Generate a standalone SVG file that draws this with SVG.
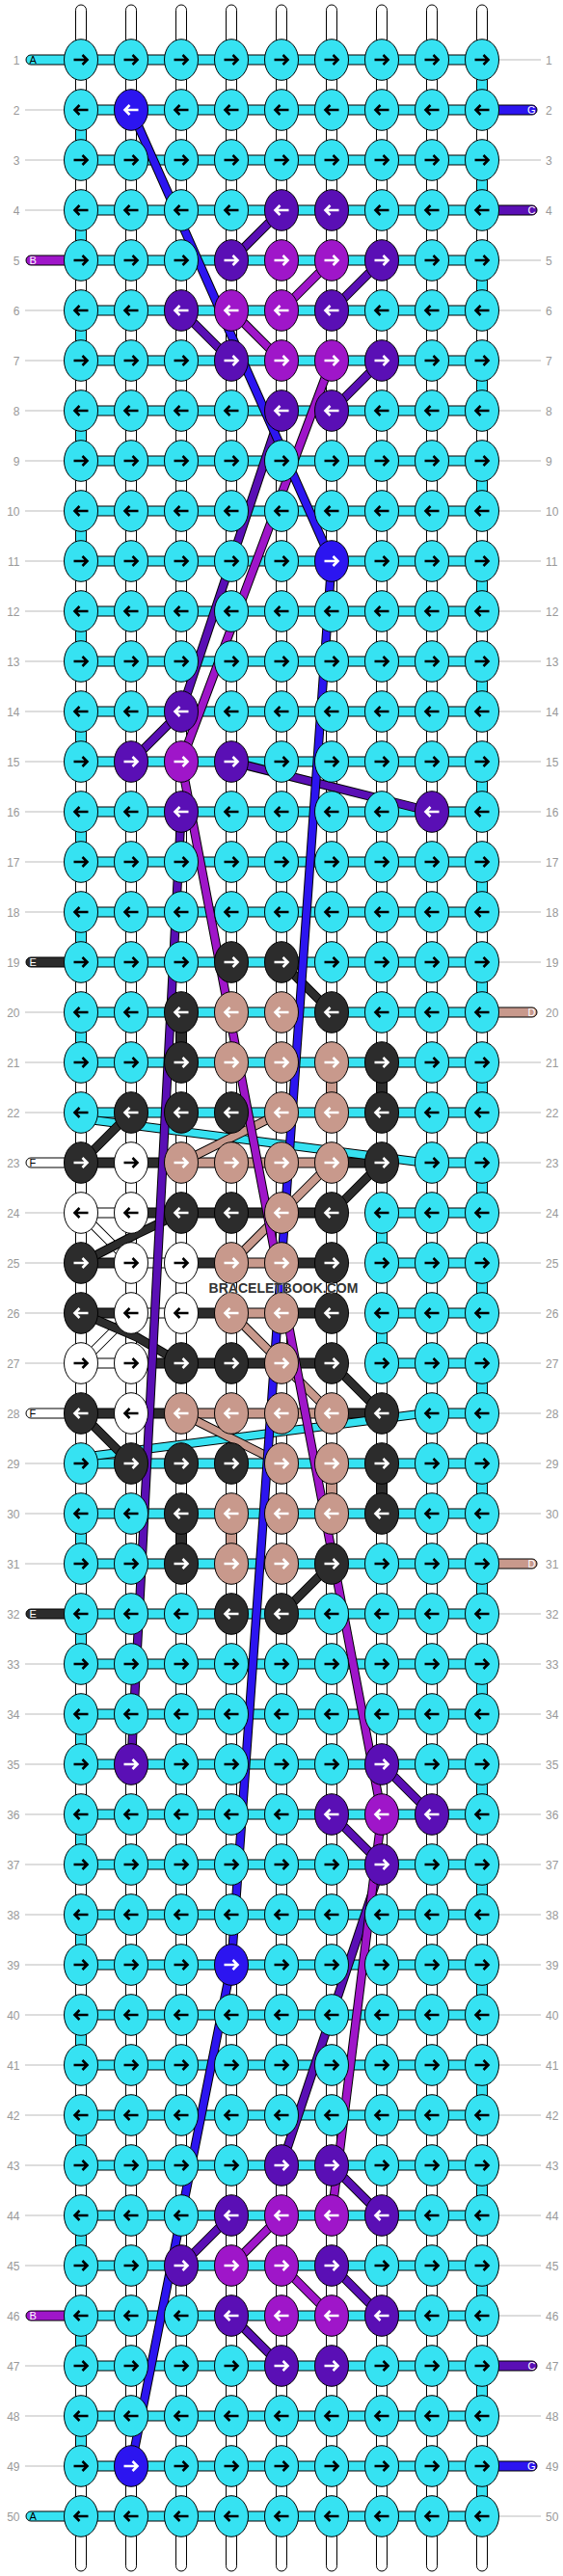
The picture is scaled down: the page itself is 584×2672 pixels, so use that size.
<svg xmlns="http://www.w3.org/2000/svg" xmlns:xlink="http://www.w3.org/1999/xlink" width="584" height="2672" viewBox="0 0 584 2672">
<style>
.fC{fill:#36e2f2}.fG{fill:#2c15f0}.fP{fill:#5a0fb5}.fM{fill:#9f16c9}.fT{fill:#c8998c}.fK{fill:#2c2c2c}.fW{fill:#fff}
ellipse{stroke:#000;stroke-width:1}
.ak{stroke:#000}.aw{stroke:#fff}
.hb rect{stroke:#000;stroke-width:1}
.vc rect{stroke:#000;stroke-width:1}
.str{fill:#fff;stroke:#000;stroke-width:1}
.o{fill:none;stroke:#000;stroke-width:9.5}
.lC,.lG,.lP,.lM,.lT,.lK,.lW{fill:none;stroke-width:7.5}
.lC{stroke:#36e2f2}.lG{stroke:#2c15f0}.lP{stroke:#5a0fb5}.lM{stroke:#9f16c9}.lT{stroke:#c8998c}.lK{stroke:#2c2c2c}.lW{stroke:#fff}
.lb{font-family:"Liberation Sans",Arial,sans-serif;font-size:12px;fill:#999}
.gl{fill:none;stroke:#bbb;stroke-width:1}
.st{stroke:#000;stroke-width:1}
.sl{font-family:"Liberation Sans",Arial,sans-serif;font-size:11px}
.wm{font-family:"Liberation Sans",Arial,sans-serif;font-size:14px;font-weight:bold;fill:#333;stroke:#fff;stroke-width:0.6;paint-order:stroke}
</style>
<defs>
<path id="ar" d="M-7.5,0H6.5M1.5,-5L6.5,0L1.5,5" fill="none" stroke-width="2.6"/>
<path id="al" d="M7.5,0H-6.5M-1.5,-5L-6.5,0L-1.5,5" fill="none" stroke-width="2.6"/>
<g id="CR"><ellipse rx="17.5" ry="21.3" class="fC"/><use href="#ar" class="ak"/></g>
<g id="CL"><ellipse rx="17.5" ry="21.3" class="fC"/><use href="#al" class="ak"/></g>
<g id="GR"><ellipse rx="17.5" ry="21.3" class="fG"/><use href="#ar" class="aw"/></g>
<g id="GL"><ellipse rx="17.5" ry="21.3" class="fG"/><use href="#al" class="aw"/></g>
<g id="PR"><ellipse rx="17.5" ry="21.3" class="fP"/><use href="#ar" class="aw"/></g>
<g id="PL"><ellipse rx="17.5" ry="21.3" class="fP"/><use href="#al" class="aw"/></g>
<g id="MR"><ellipse rx="17.5" ry="21.3" class="fM"/><use href="#ar" class="aw"/></g>
<g id="ML"><ellipse rx="17.5" ry="21.3" class="fM"/><use href="#al" class="aw"/></g>
<g id="TR"><ellipse rx="17.5" ry="21.3" class="fT"/><use href="#ar" class="aw"/></g>
<g id="TL"><ellipse rx="17.5" ry="21.3" class="fT"/><use href="#al" class="aw"/></g>
<g id="KR"><ellipse rx="17.5" ry="21.3" class="fK"/><use href="#ar" class="aw"/></g>
<g id="KL"><ellipse rx="17.5" ry="21.3" class="fK"/><use href="#al" class="aw"/></g>
<g id="WR"><ellipse rx="17.5" ry="21.3" class="fW"/><use href="#ar" class="ak"/></g>
<g id="WL"><ellipse rx="17.5" ry="21.3" class="fW"/><use href="#al" class="ak"/></g>
</defs>
<rect width="584" height="2672" fill="#fff"/>
<g id="strings">
<rect class="str" x="78.5" y="5" width="11" height="2662" rx="5.5"/>
<rect class="str" x="130.5" y="5" width="11" height="2662" rx="5.5"/>
<rect class="str" x="182.5" y="5" width="11" height="2662" rx="5.5"/>
<rect class="str" x="234.5" y="5" width="11" height="2662" rx="5.5"/>
<rect class="str" x="286.5" y="5" width="11" height="2662" rx="5.5"/>
<rect class="str" x="338.5" y="5" width="11" height="2662" rx="5.5"/>
<rect class="str" x="390.5" y="5" width="11" height="2662" rx="5.5"/>
<rect class="str" x="442.5" y="5" width="11" height="2662" rx="5.5"/>
<rect class="str" x="494.5" y="5" width="11" height="2662" rx="5.5"/>
</g>
<g id="labels">
<path class="gl" d="M26,114H66M26,166H66M26,218H66M26,322H66M26,374H66M26,426H66M26,478H66M26,530H66M26,582H66M26,634H66M26,686H66M26,738H66M26,790H66M26,842H66M26,894H66M26,946H66M26,1050H66M26,1102H66M26,1154H66M26,1258H66M26,1310H66M26,1362H66M26,1414H66M26,1518H66M26,1570H66M26,1622H66M26,1726H66M26,1778H66M26,1830H66M26,1882H66M26,1934H66M26,1986H66M26,2038H66M26,2090H66M26,2142H66M26,2194H66M26,2246H66M26,2298H66M26,2350H66M26,2454H66M26,2506H66M26,2558H66"/>
<path class="gl" d="M518,62H561M518,166H561M518,270H561M518,322H561M518,374H561M518,426H561M518,478H561M518,530H561M518,582H561M518,634H561M518,686H561M518,738H561M518,790H561M518,842H561M518,894H561M518,946H561M518,998H561M518,1102H561M518,1154H561M518,1206H561M518,1258H561M518,1310H561M518,1362H561M518,1414H561M518,1466H561M518,1518H561M518,1570H561M518,1674H561M518,1726H561M518,1778H561M518,1830H561M518,1882H561M518,1934H561M518,1986H561M518,2038H561M518,2090H561M518,2142H561M518,2194H561M518,2246H561M518,2298H561M518,2350H561M518,2402H561M518,2506H561M518,2610H561"/>
<g class="lb" text-anchor="end">
<text x="20.5" y="66.5">1</text><text x="20.5" y="118.5">2</text><text x="20.5" y="170.5">3</text><text x="20.5" y="222.5">4</text><text x="20.5" y="274.5">5</text><text x="20.5" y="326.5">6</text><text x="20.5" y="378.5">7</text><text x="20.5" y="430.5">8</text><text x="20.5" y="482.5">9</text><text x="20.5" y="534.5">10</text>
<text x="20.5" y="586.5">11</text><text x="20.5" y="638.5">12</text><text x="20.5" y="690.5">13</text><text x="20.5" y="742.5">14</text><text x="20.5" y="794.5">15</text><text x="20.5" y="846.5">16</text><text x="20.5" y="898.5">17</text><text x="20.5" y="950.5">18</text><text x="20.5" y="1002.5">19</text><text x="20.5" y="1054.5">20</text>
<text x="20.5" y="1106.5">21</text><text x="20.5" y="1158.5">22</text><text x="20.5" y="1210.5">23</text><text x="20.5" y="1262.5">24</text><text x="20.5" y="1314.5">25</text><text x="20.5" y="1366.5">26</text><text x="20.5" y="1418.5">27</text><text x="20.5" y="1470.5">28</text><text x="20.5" y="1522.5">29</text><text x="20.5" y="1574.5">30</text>
<text x="20.5" y="1626.5">31</text><text x="20.5" y="1678.5">32</text><text x="20.5" y="1730.5">33</text><text x="20.5" y="1782.5">34</text><text x="20.5" y="1834.5">35</text><text x="20.5" y="1886.5">36</text><text x="20.5" y="1938.5">37</text><text x="20.5" y="1990.5">38</text><text x="20.5" y="2042.5">39</text><text x="20.5" y="2094.5">40</text>
<text x="20.5" y="2146.5">41</text><text x="20.5" y="2198.5">42</text><text x="20.5" y="2250.5">43</text><text x="20.5" y="2302.5">44</text><text x="20.5" y="2354.5">45</text><text x="20.5" y="2406.5">46</text><text x="20.5" y="2458.5">47</text><text x="20.5" y="2510.5">48</text><text x="20.5" y="2562.5">49</text><text x="20.5" y="2614.5">50</text>
</g>
<g class="lb">
<text x="566" y="66.5">1</text><text x="566" y="118.5">2</text><text x="566" y="170.5">3</text><text x="566" y="222.5">4</text><text x="566" y="274.5">5</text><text x="566" y="326.5">6</text><text x="566" y="378.5">7</text><text x="566" y="430.5">8</text><text x="566" y="482.5">9</text><text x="566" y="534.5">10</text>
<text x="566" y="586.5">11</text><text x="566" y="638.5">12</text><text x="566" y="690.5">13</text><text x="566" y="742.5">14</text><text x="566" y="794.5">15</text><text x="566" y="846.5">16</text><text x="566" y="898.5">17</text><text x="566" y="950.5">18</text><text x="566" y="1002.5">19</text><text x="566" y="1054.5">20</text>
<text x="566" y="1106.5">21</text><text x="566" y="1158.5">22</text><text x="566" y="1210.5">23</text><text x="566" y="1262.5">24</text><text x="566" y="1314.5">25</text><text x="566" y="1366.5">26</text><text x="566" y="1418.5">27</text><text x="566" y="1470.5">28</text><text x="566" y="1522.5">29</text><text x="566" y="1574.5">30</text>
<text x="566" y="1626.5">31</text><text x="566" y="1678.5">32</text><text x="566" y="1730.5">33</text><text x="566" y="1782.5">34</text><text x="566" y="1834.5">35</text><text x="566" y="1886.5">36</text><text x="566" y="1938.5">37</text><text x="566" y="1990.5">38</text><text x="566" y="2042.5">39</text><text x="566" y="2094.5">40</text>
<text x="566" y="2146.5">41</text><text x="566" y="2198.5">42</text><text x="566" y="2250.5">43</text><text x="566" y="2302.5">44</text><text x="566" y="2354.5">45</text><text x="566" y="2406.5">46</text><text x="566" y="2458.5">47</text><text x="566" y="2510.5">48</text><text x="566" y="2562.5">49</text><text x="566" y="2614.5">50</text>
</g>
</g>
<g id="stubs">
<g id="sA1"><rect class="st fC" x="27" y="57" width="57" height="10" rx="5"/><text class="sl" x="30.5" y="66" fill="#000">A</text></g>
<g id="sB5"><rect class="st fM" x="27" y="265" width="57" height="10" rx="5"/><text class="sl" x="30.5" y="274" fill="#fff">B</text></g>
<g id="sE19"><rect class="st fK" x="27" y="993" width="57" height="10" rx="5"/><text class="sl" x="30.5" y="1002" fill="#fff">E</text></g>
<g id="sF23"><rect class="st fW" x="27" y="1201" width="57" height="10" rx="5"/><text class="sl" x="30.5" y="1210" fill="#000">F</text></g>
<g id="sF28"><rect class="st fW" x="27" y="1461" width="57" height="10" rx="5"/><text class="sl" x="30.5" y="1470" fill="#000">F</text></g>
<g id="sE32"><rect class="st fK" x="27" y="1669" width="57" height="10" rx="5"/><text class="sl" x="30.5" y="1678" fill="#fff">E</text></g>
<g id="sB46"><rect class="st fM" x="27" y="2397" width="57" height="10" rx="5"/><text class="sl" x="30.5" y="2406" fill="#fff">B</text></g>
<g id="sA50"><rect class="st fC" x="27" y="2605" width="57" height="10" rx="5"/><text class="sl" x="30.5" y="2614" fill="#000">A</text></g>
<g id="sG2"><rect class="st fG" x="500" y="109" width="57" height="10" rx="5"/><text class="sl" x="555.5" y="118" fill="#fff" text-anchor="end">G</text></g>
<g id="sC4"><rect class="st fP" x="500" y="213" width="57" height="10" rx="5"/><text class="sl" x="555.5" y="222" fill="#fff" text-anchor="end">C</text></g>
<g id="sD20"><rect class="st fT" x="500" y="1045" width="57" height="10" rx="5"/><text class="sl" x="555.5" y="1054" fill="#fff" text-anchor="end">D</text></g>
<g id="sD31"><rect class="st fT" x="500" y="1617" width="57" height="10" rx="5"/><text class="sl" x="555.5" y="1626" fill="#fff" text-anchor="end">D</text></g>
<g id="sC47"><rect class="st fP" x="500" y="2449" width="57" height="10" rx="5"/><text class="sl" x="555.5" y="2458" fill="#fff" text-anchor="end">C</text></g>
<g id="sG49"><rect class="st fG" x="500" y="2553" width="57" height="10" rx="5"/><text class="sl" x="555.5" y="2562" fill="#fff" text-anchor="end">G</text></g>
</g>
<g id="connectors">
<g class="hb">
<g class="fC">
<rect x="84" y="57" width="416" height="10"/><rect x="84" y="109" width="416" height="10"/><rect x="84" y="161" width="416" height="10"/><rect x="84" y="213" width="416" height="10"/><rect x="84" y="265" width="416" height="10"/><rect x="84" y="317" width="416" height="10"/><rect x="84" y="369" width="416" height="10"/><rect x="84" y="421" width="416" height="10"/><rect x="84" y="473" width="416" height="10"/><rect x="84" y="525" width="416" height="10"/>
<rect x="84" y="577" width="416" height="10"/><rect x="84" y="629" width="416" height="10"/><rect x="84" y="681" width="416" height="10"/><rect x="84" y="733" width="416" height="10"/><rect x="84" y="785" width="416" height="10"/><rect x="84" y="837" width="416" height="10"/><rect x="84" y="889" width="416" height="10"/><rect x="84" y="941" width="416" height="10"/><rect x="84" y="993" width="416" height="10"/><rect x="84" y="1045" width="416" height="10"/>
<rect x="84" y="1097" width="416" height="10"/><rect x="84" y="1149" width="416" height="10"/>
<rect x="448" y="1201" width="52" height="10"/><rect x="396" y="1253" width="104" height="10"/><rect x="396" y="1305" width="104" height="10"/><rect x="396" y="1357" width="104" height="10"/><rect x="396" y="1409" width="104" height="10"/><rect x="448" y="1461" width="52" height="10"/>
<rect x="84" y="1513" width="416" height="10"/><rect x="84" y="1565" width="416" height="10"/><rect x="84" y="1617" width="416" height="10"/><rect x="84" y="1669" width="416" height="10"/><rect x="84" y="1721" width="416" height="10"/><rect x="84" y="1773" width="416" height="10"/><rect x="84" y="1825" width="416" height="10"/><rect x="84" y="1877" width="416" height="10"/><rect x="84" y="1929" width="416" height="10"/><rect x="84" y="1981" width="416" height="10"/>
<rect x="84" y="2033" width="416" height="10"/><rect x="84" y="2085" width="416" height="10"/><rect x="84" y="2137" width="416" height="10"/><rect x="84" y="2189" width="416" height="10"/><rect x="84" y="2241" width="416" height="10"/><rect x="84" y="2293" width="416" height="10"/><rect x="84" y="2345" width="416" height="10"/><rect x="84" y="2397" width="416" height="10"/><rect x="84" y="2449" width="416" height="10"/><rect x="84" y="2501" width="416" height="10"/>
<rect x="84" y="2553" width="416" height="10"/><rect x="84" y="2605" width="416" height="10"/>
</g>
<g class="fK">
<rect x="84" y="1201" width="104" height="10"/><rect x="344" y="1201" width="52" height="10"/>
<rect x="136" y="1253" width="208" height="10"/>
<rect x="84" y="1305" width="52" height="10"/><rect x="188" y="1305" width="52" height="10"/><rect x="292" y="1305" width="52" height="10"/>
<rect x="84" y="1357" width="52" height="10"/><rect x="188" y="1357" width="52" height="10"/><rect x="292" y="1357" width="52" height="10"/>
<rect x="136" y="1409" width="208" height="10"/>
<rect x="84" y="1461" width="104" height="10"/><rect x="344" y="1461" width="52" height="10"/>
</g>
<g class="fT">
<rect x="188" y="1201" width="156" height="10"/><rect x="240" y="1305" width="52" height="10"/><rect x="240" y="1357" width="52" height="10"/><rect x="188" y="1461" width="156" height="10"/>
</g>
<g class="fW">
<rect x="84" y="1253" width="52" height="10"/><rect x="136" y="1305" width="52" height="10"/><rect x="136" y="1357" width="52" height="10"/><rect x="84" y="1409" width="52" height="10"/>
</g>
</g>
<path class="gl" d="M344,1258H396M344,1310H396M344,1362H396M344,1414H396"/>
<g class="vc">
<g class="fC">
<rect x="494.5" y="77" width="11" height="22"/><rect x="78.5" y="129" width="11" height="22"/><rect x="494.5" y="181" width="11" height="22"/><rect x="78.5" y="233" width="11" height="22"/><rect x="494.5" y="285" width="11" height="22"/><rect x="78.5" y="337" width="11" height="22"/><rect x="494.5" y="389" width="11" height="22"/><rect x="78.5" y="441" width="11" height="22"/><rect x="494.5" y="493" width="11" height="22"/><rect x="78.5" y="545" width="11" height="22"/>
<rect x="494.5" y="597" width="11" height="22"/><rect x="78.5" y="649" width="11" height="22"/><rect x="494.5" y="701" width="11" height="22"/><rect x="78.5" y="753" width="11" height="22"/><rect x="494.5" y="805" width="11" height="22"/><rect x="78.5" y="857" width="11" height="22"/><rect x="494.5" y="909" width="11" height="22"/><rect x="78.5" y="961" width="11" height="22"/><rect x="494.5" y="1013" width="11" height="22"/><rect x="78.5" y="1065" width="11" height="22"/>
<rect x="494.5" y="1117" width="11" height="22"/><rect x="494.5" y="1221" width="11" height="22"/><rect x="390.5" y="1273" width="11" height="22"/><rect x="494.5" y="1325" width="11" height="22"/><rect x="390.5" y="1377" width="11" height="22"/><rect x="494.5" y="1429" width="11" height="22"/>
<rect x="494.5" y="1533" width="11" height="22"/><rect x="78.5" y="1585" width="11" height="22"/><rect x="494.5" y="1637" width="11" height="22"/><rect x="78.5" y="1689" width="11" height="22"/><rect x="494.5" y="1741" width="11" height="22"/><rect x="78.5" y="1793" width="11" height="22"/><rect x="494.5" y="1845" width="11" height="22"/><rect x="78.5" y="1897" width="11" height="22"/><rect x="494.5" y="1949" width="11" height="22"/><rect x="78.5" y="2001" width="11" height="22"/>
<rect x="494.5" y="2053" width="11" height="22"/><rect x="78.5" y="2105" width="11" height="22"/><rect x="494.5" y="2157" width="11" height="22"/><rect x="78.5" y="2209" width="11" height="22"/><rect x="494.5" y="2261" width="11" height="22"/><rect x="78.5" y="2313" width="11" height="22"/><rect x="494.5" y="2365" width="11" height="22"/><rect x="78.5" y="2417" width="11" height="22"/><rect x="494.5" y="2469" width="11" height="22"/><rect x="78.5" y="2521" width="11" height="22"/>
<rect x="494.5" y="2573" width="11" height="22"/>
</g>
<g class="fK"><rect x="182.5" y="1065" width="11" height="22"/><rect x="390.5" y="1117" width="11" height="22"/><rect x="390.5" y="1533" width="11" height="22"/><rect x="182.5" y="1585" width="11" height="22"/></g>
<g class="fT"><rect x="338.5" y="1117" width="11" height="22"/><rect x="338.5" y="1533" width="11" height="22"/><rect x="234.5" y="1585" width="11" height="22"/></g>
</g>
<g id="threads">
<path class="o" d="M90,1161L448,1207M448,1465L90,1511"/><path class="lC" d="M90,1161L448,1207M448,1465L90,1511"/>
<path class="o" d="M84,1258L136,1310M136,1362L84,1414"/><path class="lW" d="M84,1258L136,1310M136,1362L84,1414"/>
<path class="o" d="M136,1154L84,1206M84,1466L136,1518M84,1310L142,1280L188,1258M84,1362L142,1387L188,1414M292,998L344,1050M396,1206L344,1258M344,1414L396,1466M344,1622L292,1674"/>
<path class="lK" d="M136,1154L84,1206M84,1466L136,1518M84,1310L142,1280L188,1258M84,1362L142,1387L188,1414M292,998L344,1050M396,1206L344,1258M344,1414L396,1466M344,1622L292,1674"/>
<path class="o" d="M292,1154L188,1206M344,1206L292,1258L240,1310M240,1362L292,1414L344,1466M188,1466L292,1518"/>
<path class="lT" d="M292,1154L188,1206M344,1206L292,1258L240,1310M240,1362L292,1414L344,1466M188,1466L292,1518"/>
<path class="o" d="M292,218L240,270M396,270L344,322M188,322L240,374M396,374L344,426M292,426L188,738L136,790M240,790L448,842M188,842L136,1830M396,1830L448,1882M344,1882L396,1934L292,2246M344,2246L396,2298M240,2298L188,2350M344,2350L396,2402M240,2402L292,2454"/>
<path class="lP" d="M292,218L240,270M396,270L344,322M188,322L240,374M396,374L344,426M292,426L188,738L136,790M240,790L448,842M188,842L136,1830M396,1830L448,1882M344,1882L396,1934L292,2246M344,2246L396,2298M240,2298L188,2350M344,2350L396,2402M240,2402L292,2454"/>
<path class="o" d="M344,270L292,322M240,322L292,374M344,374L188,790L396,1882L344,2298M292,2298L240,2350M292,2350L344,2402"/>
<path class="lM" d="M344,270L292,322M240,322L292,374M344,374L188,790L396,1882L344,2298M292,2298L240,2350M292,2350L344,2402"/>
<path class="o" d="M136,114L344,582L240,2038L136,2558"/>
<path class="lG" d="M136,114L344,582L240,2038L136,2558"/>
</g>
</g>
<g id="nodes">
<g id="n1-1"><use href="#CR" x="84" y="62"/></g><g id="n1-2"><use href="#CR" x="136" y="62"/></g><g id="n1-3"><use href="#CR" x="188" y="62"/></g><g id="n1-4"><use href="#CR" x="240" y="62"/></g><g id="n1-5"><use href="#CR" x="292" y="62"/></g><g id="n1-6"><use href="#CR" x="344" y="62"/></g><g id="n1-7"><use href="#CR" x="396" y="62"/></g><g id="n1-8"><use href="#CR" x="448" y="62"/></g><g id="n1-9"><use href="#CR" x="500" y="62"/></g>
<g id="n2-1"><use href="#CL" x="84" y="114"/></g><g id="n2-2"><use href="#GL" x="136" y="114"/></g><g id="n2-3"><use href="#CL" x="188" y="114"/></g><g id="n2-4"><use href="#CL" x="240" y="114"/></g><g id="n2-5"><use href="#CL" x="292" y="114"/></g><g id="n2-6"><use href="#CL" x="344" y="114"/></g><g id="n2-7"><use href="#CL" x="396" y="114"/></g><g id="n2-8"><use href="#CL" x="448" y="114"/></g><g id="n2-9"><use href="#CL" x="500" y="114"/></g>
<g id="n3-1"><use href="#CR" x="84" y="166"/></g><g id="n3-2"><use href="#CR" x="136" y="166"/></g><g id="n3-3"><use href="#CR" x="188" y="166"/></g><g id="n3-4"><use href="#CR" x="240" y="166"/></g><g id="n3-5"><use href="#CR" x="292" y="166"/></g><g id="n3-6"><use href="#CR" x="344" y="166"/></g><g id="n3-7"><use href="#CR" x="396" y="166"/></g><g id="n3-8"><use href="#CR" x="448" y="166"/></g><g id="n3-9"><use href="#CR" x="500" y="166"/></g>
<g id="n4-1"><use href="#CL" x="84" y="218"/></g><g id="n4-2"><use href="#CL" x="136" y="218"/></g><g id="n4-3"><use href="#CL" x="188" y="218"/></g><g id="n4-4"><use href="#CL" x="240" y="218"/></g><g id="n4-5"><use href="#PL" x="292" y="218"/></g><g id="n4-6"><use href="#PL" x="344" y="218"/></g><g id="n4-7"><use href="#CL" x="396" y="218"/></g><g id="n4-8"><use href="#CL" x="448" y="218"/></g><g id="n4-9"><use href="#CL" x="500" y="218"/></g>
<g id="n5-1"><use href="#CR" x="84" y="270"/></g><g id="n5-2"><use href="#CR" x="136" y="270"/></g><g id="n5-3"><use href="#CR" x="188" y="270"/></g><g id="n5-4"><use href="#PR" x="240" y="270"/></g><g id="n5-5"><use href="#MR" x="292" y="270"/></g><g id="n5-6"><use href="#MR" x="344" y="270"/></g><g id="n5-7"><use href="#PR" x="396" y="270"/></g><g id="n5-8"><use href="#CR" x="448" y="270"/></g><g id="n5-9"><use href="#CR" x="500" y="270"/></g>
<g id="n6-1"><use href="#CL" x="84" y="322"/></g><g id="n6-2"><use href="#CL" x="136" y="322"/></g><g id="n6-3"><use href="#PL" x="188" y="322"/></g><g id="n6-4"><use href="#ML" x="240" y="322"/></g><g id="n6-5"><use href="#ML" x="292" y="322"/></g><g id="n6-6"><use href="#PL" x="344" y="322"/></g><g id="n6-7"><use href="#CL" x="396" y="322"/></g><g id="n6-8"><use href="#CL" x="448" y="322"/></g><g id="n6-9"><use href="#CL" x="500" y="322"/></g>
<g id="n7-1"><use href="#CR" x="84" y="374"/></g><g id="n7-2"><use href="#CR" x="136" y="374"/></g><g id="n7-3"><use href="#CR" x="188" y="374"/></g><g id="n7-4"><use href="#PR" x="240" y="374"/></g><g id="n7-5"><use href="#MR" x="292" y="374"/></g><g id="n7-6"><use href="#MR" x="344" y="374"/></g><g id="n7-7"><use href="#PR" x="396" y="374"/></g><g id="n7-8"><use href="#CR" x="448" y="374"/></g><g id="n7-9"><use href="#CR" x="500" y="374"/></g>
<g id="n8-1"><use href="#CL" x="84" y="426"/></g><g id="n8-2"><use href="#CL" x="136" y="426"/></g><g id="n8-3"><use href="#CL" x="188" y="426"/></g><g id="n8-4"><use href="#CL" x="240" y="426"/></g><g id="n8-5"><use href="#PL" x="292" y="426"/></g><g id="n8-6"><use href="#PL" x="344" y="426"/></g><g id="n8-7"><use href="#CL" x="396" y="426"/></g><g id="n8-8"><use href="#CL" x="448" y="426"/></g><g id="n8-9"><use href="#CL" x="500" y="426"/></g>
<g id="n9-1"><use href="#CR" x="84" y="478"/></g><g id="n9-2"><use href="#CR" x="136" y="478"/></g><g id="n9-3"><use href="#CR" x="188" y="478"/></g><g id="n9-4"><use href="#CR" x="240" y="478"/></g><g id="n9-5"><use href="#CR" x="292" y="478"/></g><g id="n9-6"><use href="#CR" x="344" y="478"/></g><g id="n9-7"><use href="#CR" x="396" y="478"/></g><g id="n9-8"><use href="#CR" x="448" y="478"/></g><g id="n9-9"><use href="#CR" x="500" y="478"/></g>
<g id="n10-1"><use href="#CL" x="84" y="530"/></g><g id="n10-2"><use href="#CL" x="136" y="530"/></g><g id="n10-3"><use href="#CL" x="188" y="530"/></g><g id="n10-4"><use href="#CL" x="240" y="530"/></g><g id="n10-5"><use href="#CL" x="292" y="530"/></g><g id="n10-6"><use href="#CL" x="344" y="530"/></g><g id="n10-7"><use href="#CL" x="396" y="530"/></g><g id="n10-8"><use href="#CL" x="448" y="530"/></g><g id="n10-9"><use href="#CL" x="500" y="530"/></g>
<g id="n11-1"><use href="#CR" x="84" y="582"/></g><g id="n11-2"><use href="#CR" x="136" y="582"/></g><g id="n11-3"><use href="#CR" x="188" y="582"/></g><g id="n11-4"><use href="#CR" x="240" y="582"/></g><g id="n11-5"><use href="#CR" x="292" y="582"/></g><g id="n11-6"><use href="#GR" x="344" y="582"/></g><g id="n11-7"><use href="#CR" x="396" y="582"/></g><g id="n11-8"><use href="#CR" x="448" y="582"/></g><g id="n11-9"><use href="#CR" x="500" y="582"/></g>
<g id="n12-1"><use href="#CL" x="84" y="634"/></g><g id="n12-2"><use href="#CL" x="136" y="634"/></g><g id="n12-3"><use href="#CL" x="188" y="634"/></g><g id="n12-4"><use href="#CL" x="240" y="634"/></g><g id="n12-5"><use href="#CL" x="292" y="634"/></g><g id="n12-6"><use href="#CL" x="344" y="634"/></g><g id="n12-7"><use href="#CL" x="396" y="634"/></g><g id="n12-8"><use href="#CL" x="448" y="634"/></g><g id="n12-9"><use href="#CL" x="500" y="634"/></g>
<g id="n13-1"><use href="#CR" x="84" y="686"/></g><g id="n13-2"><use href="#CR" x="136" y="686"/></g><g id="n13-3"><use href="#CR" x="188" y="686"/></g><g id="n13-4"><use href="#CR" x="240" y="686"/></g><g id="n13-5"><use href="#CR" x="292" y="686"/></g><g id="n13-6"><use href="#CR" x="344" y="686"/></g><g id="n13-7"><use href="#CR" x="396" y="686"/></g><g id="n13-8"><use href="#CR" x="448" y="686"/></g><g id="n13-9"><use href="#CR" x="500" y="686"/></g>
<g id="n14-1"><use href="#CL" x="84" y="738"/></g><g id="n14-2"><use href="#CL" x="136" y="738"/></g><g id="n14-3"><use href="#PL" x="188" y="738"/></g><g id="n14-4"><use href="#CL" x="240" y="738"/></g><g id="n14-5"><use href="#CL" x="292" y="738"/></g><g id="n14-6"><use href="#CL" x="344" y="738"/></g><g id="n14-7"><use href="#CL" x="396" y="738"/></g><g id="n14-8"><use href="#CL" x="448" y="738"/></g><g id="n14-9"><use href="#CL" x="500" y="738"/></g>
<g id="n15-1"><use href="#CR" x="84" y="790"/></g><g id="n15-2"><use href="#PR" x="136" y="790"/></g><g id="n15-3"><use href="#MR" x="188" y="790"/></g><g id="n15-4"><use href="#PR" x="240" y="790"/></g><g id="n15-5"><use href="#CR" x="292" y="790"/></g><g id="n15-6"><use href="#CR" x="344" y="790"/></g><g id="n15-7"><use href="#CR" x="396" y="790"/></g><g id="n15-8"><use href="#CR" x="448" y="790"/></g><g id="n15-9"><use href="#CR" x="500" y="790"/></g>
<g id="n16-1"><use href="#CL" x="84" y="842"/></g><g id="n16-2"><use href="#CL" x="136" y="842"/></g><g id="n16-3"><use href="#PL" x="188" y="842"/></g><g id="n16-4"><use href="#CL" x="240" y="842"/></g><g id="n16-5"><use href="#CL" x="292" y="842"/></g><g id="n16-6"><use href="#CL" x="344" y="842"/></g><g id="n16-7"><use href="#CL" x="396" y="842"/></g><g id="n16-8"><use href="#PL" x="448" y="842"/></g><g id="n16-9"><use href="#CL" x="500" y="842"/></g>
<g id="n17-1"><use href="#CR" x="84" y="894"/></g><g id="n17-2"><use href="#CR" x="136" y="894"/></g><g id="n17-3"><use href="#CR" x="188" y="894"/></g><g id="n17-4"><use href="#CR" x="240" y="894"/></g><g id="n17-5"><use href="#CR" x="292" y="894"/></g><g id="n17-6"><use href="#CR" x="344" y="894"/></g><g id="n17-7"><use href="#CR" x="396" y="894"/></g><g id="n17-8"><use href="#CR" x="448" y="894"/></g><g id="n17-9"><use href="#CR" x="500" y="894"/></g>
<g id="n18-1"><use href="#CL" x="84" y="946"/></g><g id="n18-2"><use href="#CL" x="136" y="946"/></g><g id="n18-3"><use href="#CL" x="188" y="946"/></g><g id="n18-4"><use href="#CL" x="240" y="946"/></g><g id="n18-5"><use href="#CL" x="292" y="946"/></g><g id="n18-6"><use href="#CL" x="344" y="946"/></g><g id="n18-7"><use href="#CL" x="396" y="946"/></g><g id="n18-8"><use href="#CL" x="448" y="946"/></g><g id="n18-9"><use href="#CL" x="500" y="946"/></g>
<g id="n19-1"><use href="#CR" x="84" y="998"/></g><g id="n19-2"><use href="#CR" x="136" y="998"/></g><g id="n19-3"><use href="#CR" x="188" y="998"/></g><g id="n19-4"><use href="#KR" x="240" y="998"/></g><g id="n19-5"><use href="#KR" x="292" y="998"/></g><g id="n19-6"><use href="#CR" x="344" y="998"/></g><g id="n19-7"><use href="#CR" x="396" y="998"/></g><g id="n19-8"><use href="#CR" x="448" y="998"/></g><g id="n19-9"><use href="#CR" x="500" y="998"/></g>
<g id="n20-1"><use href="#CL" x="84" y="1050"/></g><g id="n20-2"><use href="#CL" x="136" y="1050"/></g><g id="n20-3"><use href="#KL" x="188" y="1050"/></g><g id="n20-4"><use href="#TL" x="240" y="1050"/></g><g id="n20-5"><use href="#TL" x="292" y="1050"/></g><g id="n20-6"><use href="#KL" x="344" y="1050"/></g><g id="n20-7"><use href="#CL" x="396" y="1050"/></g><g id="n20-8"><use href="#CL" x="448" y="1050"/></g><g id="n20-9"><use href="#CL" x="500" y="1050"/></g>
<g id="n21-1"><use href="#CR" x="84" y="1102"/></g><g id="n21-2"><use href="#CR" x="136" y="1102"/></g><g id="n21-3"><use href="#KR" x="188" y="1102"/></g><g id="n21-4"><use href="#TR" x="240" y="1102"/></g><g id="n21-5"><use href="#TR" x="292" y="1102"/></g><g id="n21-6"><use href="#TR" x="344" y="1102"/></g><g id="n21-7"><use href="#KR" x="396" y="1102"/></g><g id="n21-8"><use href="#CR" x="448" y="1102"/></g><g id="n21-9"><use href="#CR" x="500" y="1102"/></g>
<g id="n22-1"><use href="#CL" x="84" y="1154"/></g><g id="n22-2"><use href="#KL" x="136" y="1154"/></g><g id="n22-3"><use href="#KL" x="188" y="1154"/></g><g id="n22-4"><use href="#KL" x="240" y="1154"/></g><g id="n22-5"><use href="#TL" x="292" y="1154"/></g><g id="n22-6"><use href="#TL" x="344" y="1154"/></g><g id="n22-7"><use href="#KL" x="396" y="1154"/></g><g id="n22-8"><use href="#CL" x="448" y="1154"/></g><g id="n22-9"><use href="#CL" x="500" y="1154"/></g>
<g id="n23-1"><use href="#KR" x="84" y="1206"/></g><g id="n23-2"><use href="#WR" x="136" y="1206"/></g><g id="n23-3"><use href="#TR" x="188" y="1206"/></g><g id="n23-4"><use href="#TR" x="240" y="1206"/></g><g id="n23-5"><use href="#TR" x="292" y="1206"/></g><g id="n23-6"><use href="#TR" x="344" y="1206"/></g><g id="n23-7"><use href="#KR" x="396" y="1206"/></g><g id="n23-8"><use href="#CR" x="448" y="1206"/></g><g id="n23-9"><use href="#CR" x="500" y="1206"/></g>
<g id="n24-1"><use href="#WL" x="84" y="1258"/></g><g id="n24-2"><use href="#WL" x="136" y="1258"/></g><g id="n24-3"><use href="#KL" x="188" y="1258"/></g><g id="n24-4"><use href="#KL" x="240" y="1258"/></g><g id="n24-5"><use href="#TL" x="292" y="1258"/></g><g id="n24-6"><use href="#KL" x="344" y="1258"/></g><g id="n24-7"><use href="#CL" x="396" y="1258"/></g><g id="n24-8"><use href="#CL" x="448" y="1258"/></g><g id="n24-9"><use href="#CL" x="500" y="1258"/></g>
<g id="n25-1"><use href="#KR" x="84" y="1310"/></g><g id="n25-2"><use href="#WR" x="136" y="1310"/></g><g id="n25-3"><use href="#WR" x="188" y="1310"/></g><g id="n25-4"><use href="#TR" x="240" y="1310"/></g><g id="n25-5"><use href="#TR" x="292" y="1310"/></g><g id="n25-6"><use href="#KR" x="344" y="1310"/></g><g id="n25-7"><use href="#CR" x="396" y="1310"/></g><g id="n25-8"><use href="#CR" x="448" y="1310"/></g><g id="n25-9"><use href="#CR" x="500" y="1310"/></g>
<g id="n26-1"><use href="#KL" x="84" y="1362"/></g><g id="n26-2"><use href="#WL" x="136" y="1362"/></g><g id="n26-3"><use href="#WL" x="188" y="1362"/></g><g id="n26-4"><use href="#TL" x="240" y="1362"/></g><g id="n26-5"><use href="#TL" x="292" y="1362"/></g><g id="n26-6"><use href="#KL" x="344" y="1362"/></g><g id="n26-7"><use href="#CL" x="396" y="1362"/></g><g id="n26-8"><use href="#CL" x="448" y="1362"/></g><g id="n26-9"><use href="#CL" x="500" y="1362"/></g>
<g id="n27-1"><use href="#WR" x="84" y="1414"/></g><g id="n27-2"><use href="#WR" x="136" y="1414"/></g><g id="n27-3"><use href="#KR" x="188" y="1414"/></g><g id="n27-4"><use href="#KR" x="240" y="1414"/></g><g id="n27-5"><use href="#TR" x="292" y="1414"/></g><g id="n27-6"><use href="#KR" x="344" y="1414"/></g><g id="n27-7"><use href="#CR" x="396" y="1414"/></g><g id="n27-8"><use href="#CR" x="448" y="1414"/></g><g id="n27-9"><use href="#CR" x="500" y="1414"/></g>
<g id="n28-1"><use href="#KL" x="84" y="1466"/></g><g id="n28-2"><use href="#WL" x="136" y="1466"/></g><g id="n28-3"><use href="#TL" x="188" y="1466"/></g><g id="n28-4"><use href="#TL" x="240" y="1466"/></g><g id="n28-5"><use href="#TL" x="292" y="1466"/></g><g id="n28-6"><use href="#TL" x="344" y="1466"/></g><g id="n28-7"><use href="#KL" x="396" y="1466"/></g><g id="n28-8"><use href="#CL" x="448" y="1466"/></g><g id="n28-9"><use href="#CL" x="500" y="1466"/></g>
<g id="n29-1"><use href="#CR" x="84" y="1518"/></g><g id="n29-2"><use href="#KR" x="136" y="1518"/></g><g id="n29-3"><use href="#KR" x="188" y="1518"/></g><g id="n29-4"><use href="#KR" x="240" y="1518"/></g><g id="n29-5"><use href="#TR" x="292" y="1518"/></g><g id="n29-6"><use href="#TR" x="344" y="1518"/></g><g id="n29-7"><use href="#KR" x="396" y="1518"/></g><g id="n29-8"><use href="#CR" x="448" y="1518"/></g><g id="n29-9"><use href="#CR" x="500" y="1518"/></g>
<g id="n30-1"><use href="#CL" x="84" y="1570"/></g><g id="n30-2"><use href="#CL" x="136" y="1570"/></g><g id="n30-3"><use href="#KL" x="188" y="1570"/></g><g id="n30-4"><use href="#TL" x="240" y="1570"/></g><g id="n30-5"><use href="#TL" x="292" y="1570"/></g><g id="n30-6"><use href="#TL" x="344" y="1570"/></g><g id="n30-7"><use href="#KL" x="396" y="1570"/></g><g id="n30-8"><use href="#CL" x="448" y="1570"/></g><g id="n30-9"><use href="#CL" x="500" y="1570"/></g>
<g id="n31-1"><use href="#CR" x="84" y="1622"/></g><g id="n31-2"><use href="#CR" x="136" y="1622"/></g><g id="n31-3"><use href="#KR" x="188" y="1622"/></g><g id="n31-4"><use href="#TR" x="240" y="1622"/></g><g id="n31-5"><use href="#TR" x="292" y="1622"/></g><g id="n31-6"><use href="#KR" x="344" y="1622"/></g><g id="n31-7"><use href="#CR" x="396" y="1622"/></g><g id="n31-8"><use href="#CR" x="448" y="1622"/></g><g id="n31-9"><use href="#CR" x="500" y="1622"/></g>
<g id="n32-1"><use href="#CL" x="84" y="1674"/></g><g id="n32-2"><use href="#CL" x="136" y="1674"/></g><g id="n32-3"><use href="#CL" x="188" y="1674"/></g><g id="n32-4"><use href="#KL" x="240" y="1674"/></g><g id="n32-5"><use href="#KL" x="292" y="1674"/></g><g id="n32-6"><use href="#CL" x="344" y="1674"/></g><g id="n32-7"><use href="#CL" x="396" y="1674"/></g><g id="n32-8"><use href="#CL" x="448" y="1674"/></g><g id="n32-9"><use href="#CL" x="500" y="1674"/></g>
<g id="n33-1"><use href="#CR" x="84" y="1726"/></g><g id="n33-2"><use href="#CR" x="136" y="1726"/></g><g id="n33-3"><use href="#CR" x="188" y="1726"/></g><g id="n33-4"><use href="#CR" x="240" y="1726"/></g><g id="n33-5"><use href="#CR" x="292" y="1726"/></g><g id="n33-6"><use href="#CR" x="344" y="1726"/></g><g id="n33-7"><use href="#CR" x="396" y="1726"/></g><g id="n33-8"><use href="#CR" x="448" y="1726"/></g><g id="n33-9"><use href="#CR" x="500" y="1726"/></g>
<g id="n34-1"><use href="#CL" x="84" y="1778"/></g><g id="n34-2"><use href="#CL" x="136" y="1778"/></g><g id="n34-3"><use href="#CL" x="188" y="1778"/></g><g id="n34-4"><use href="#CL" x="240" y="1778"/></g><g id="n34-5"><use href="#CL" x="292" y="1778"/></g><g id="n34-6"><use href="#CL" x="344" y="1778"/></g><g id="n34-7"><use href="#CL" x="396" y="1778"/></g><g id="n34-8"><use href="#CL" x="448" y="1778"/></g><g id="n34-9"><use href="#CL" x="500" y="1778"/></g>
<g id="n35-1"><use href="#CR" x="84" y="1830"/></g><g id="n35-2"><use href="#PR" x="136" y="1830"/></g><g id="n35-3"><use href="#CR" x="188" y="1830"/></g><g id="n35-4"><use href="#CR" x="240" y="1830"/></g><g id="n35-5"><use href="#CR" x="292" y="1830"/></g><g id="n35-6"><use href="#CR" x="344" y="1830"/></g><g id="n35-7"><use href="#PR" x="396" y="1830"/></g><g id="n35-8"><use href="#CR" x="448" y="1830"/></g><g id="n35-9"><use href="#CR" x="500" y="1830"/></g>
<g id="n36-1"><use href="#CL" x="84" y="1882"/></g><g id="n36-2"><use href="#CL" x="136" y="1882"/></g><g id="n36-3"><use href="#CL" x="188" y="1882"/></g><g id="n36-4"><use href="#CL" x="240" y="1882"/></g><g id="n36-5"><use href="#CL" x="292" y="1882"/></g><g id="n36-6"><use href="#PL" x="344" y="1882"/></g><g id="n36-7"><use href="#ML" x="396" y="1882"/></g><g id="n36-8"><use href="#PL" x="448" y="1882"/></g><g id="n36-9"><use href="#CL" x="500" y="1882"/></g>
<g id="n37-1"><use href="#CR" x="84" y="1934"/></g><g id="n37-2"><use href="#CR" x="136" y="1934"/></g><g id="n37-3"><use href="#CR" x="188" y="1934"/></g><g id="n37-4"><use href="#CR" x="240" y="1934"/></g><g id="n37-5"><use href="#CR" x="292" y="1934"/></g><g id="n37-6"><use href="#CR" x="344" y="1934"/></g><g id="n37-7"><use href="#PR" x="396" y="1934"/></g><g id="n37-8"><use href="#CR" x="448" y="1934"/></g><g id="n37-9"><use href="#CR" x="500" y="1934"/></g>
<g id="n38-1"><use href="#CL" x="84" y="1986"/></g><g id="n38-2"><use href="#CL" x="136" y="1986"/></g><g id="n38-3"><use href="#CL" x="188" y="1986"/></g><g id="n38-4"><use href="#CL" x="240" y="1986"/></g><g id="n38-5"><use href="#CL" x="292" y="1986"/></g><g id="n38-6"><use href="#CL" x="344" y="1986"/></g><g id="n38-7"><use href="#CL" x="396" y="1986"/></g><g id="n38-8"><use href="#CL" x="448" y="1986"/></g><g id="n38-9"><use href="#CL" x="500" y="1986"/></g>
<g id="n39-1"><use href="#CR" x="84" y="2038"/></g><g id="n39-2"><use href="#CR" x="136" y="2038"/></g><g id="n39-3"><use href="#CR" x="188" y="2038"/></g><g id="n39-4"><use href="#GR" x="240" y="2038"/></g><g id="n39-5"><use href="#CR" x="292" y="2038"/></g><g id="n39-6"><use href="#CR" x="344" y="2038"/></g><g id="n39-7"><use href="#CR" x="396" y="2038"/></g><g id="n39-8"><use href="#CR" x="448" y="2038"/></g><g id="n39-9"><use href="#CR" x="500" y="2038"/></g>
<g id="n40-1"><use href="#CL" x="84" y="2090"/></g><g id="n40-2"><use href="#CL" x="136" y="2090"/></g><g id="n40-3"><use href="#CL" x="188" y="2090"/></g><g id="n40-4"><use href="#CL" x="240" y="2090"/></g><g id="n40-5"><use href="#CL" x="292" y="2090"/></g><g id="n40-6"><use href="#CL" x="344" y="2090"/></g><g id="n40-7"><use href="#CL" x="396" y="2090"/></g><g id="n40-8"><use href="#CL" x="448" y="2090"/></g><g id="n40-9"><use href="#CL" x="500" y="2090"/></g>
<g id="n41-1"><use href="#CR" x="84" y="2142"/></g><g id="n41-2"><use href="#CR" x="136" y="2142"/></g><g id="n41-3"><use href="#CR" x="188" y="2142"/></g><g id="n41-4"><use href="#CR" x="240" y="2142"/></g><g id="n41-5"><use href="#CR" x="292" y="2142"/></g><g id="n41-6"><use href="#CR" x="344" y="2142"/></g><g id="n41-7"><use href="#CR" x="396" y="2142"/></g><g id="n41-8"><use href="#CR" x="448" y="2142"/></g><g id="n41-9"><use href="#CR" x="500" y="2142"/></g>
<g id="n42-1"><use href="#CL" x="84" y="2194"/></g><g id="n42-2"><use href="#CL" x="136" y="2194"/></g><g id="n42-3"><use href="#CL" x="188" y="2194"/></g><g id="n42-4"><use href="#CL" x="240" y="2194"/></g><g id="n42-5"><use href="#CL" x="292" y="2194"/></g><g id="n42-6"><use href="#CL" x="344" y="2194"/></g><g id="n42-7"><use href="#CL" x="396" y="2194"/></g><g id="n42-8"><use href="#CL" x="448" y="2194"/></g><g id="n42-9"><use href="#CL" x="500" y="2194"/></g>
<g id="n43-1"><use href="#CR" x="84" y="2246"/></g><g id="n43-2"><use href="#CR" x="136" y="2246"/></g><g id="n43-3"><use href="#CR" x="188" y="2246"/></g><g id="n43-4"><use href="#CR" x="240" y="2246"/></g><g id="n43-5"><use href="#PR" x="292" y="2246"/></g><g id="n43-6"><use href="#PR" x="344" y="2246"/></g><g id="n43-7"><use href="#CR" x="396" y="2246"/></g><g id="n43-8"><use href="#CR" x="448" y="2246"/></g><g id="n43-9"><use href="#CR" x="500" y="2246"/></g>
<g id="n44-1"><use href="#CL" x="84" y="2298"/></g><g id="n44-2"><use href="#CL" x="136" y="2298"/></g><g id="n44-3"><use href="#CL" x="188" y="2298"/></g><g id="n44-4"><use href="#PL" x="240" y="2298"/></g><g id="n44-5"><use href="#ML" x="292" y="2298"/></g><g id="n44-6"><use href="#ML" x="344" y="2298"/></g><g id="n44-7"><use href="#PL" x="396" y="2298"/></g><g id="n44-8"><use href="#CL" x="448" y="2298"/></g><g id="n44-9"><use href="#CL" x="500" y="2298"/></g>
<g id="n45-1"><use href="#CR" x="84" y="2350"/></g><g id="n45-2"><use href="#CR" x="136" y="2350"/></g><g id="n45-3"><use href="#PR" x="188" y="2350"/></g><g id="n45-4"><use href="#MR" x="240" y="2350"/></g><g id="n45-5"><use href="#MR" x="292" y="2350"/></g><g id="n45-6"><use href="#PR" x="344" y="2350"/></g><g id="n45-7"><use href="#CR" x="396" y="2350"/></g><g id="n45-8"><use href="#CR" x="448" y="2350"/></g><g id="n45-9"><use href="#CR" x="500" y="2350"/></g>
<g id="n46-1"><use href="#CL" x="84" y="2402"/></g><g id="n46-2"><use href="#CL" x="136" y="2402"/></g><g id="n46-3"><use href="#CL" x="188" y="2402"/></g><g id="n46-4"><use href="#PL" x="240" y="2402"/></g><g id="n46-5"><use href="#ML" x="292" y="2402"/></g><g id="n46-6"><use href="#ML" x="344" y="2402"/></g><g id="n46-7"><use href="#PL" x="396" y="2402"/></g><g id="n46-8"><use href="#CL" x="448" y="2402"/></g><g id="n46-9"><use href="#CL" x="500" y="2402"/></g>
<g id="n47-1"><use href="#CR" x="84" y="2454"/></g><g id="n47-2"><use href="#CR" x="136" y="2454"/></g><g id="n47-3"><use href="#CR" x="188" y="2454"/></g><g id="n47-4"><use href="#CR" x="240" y="2454"/></g><g id="n47-5"><use href="#PR" x="292" y="2454"/></g><g id="n47-6"><use href="#PR" x="344" y="2454"/></g><g id="n47-7"><use href="#CR" x="396" y="2454"/></g><g id="n47-8"><use href="#CR" x="448" y="2454"/></g><g id="n47-9"><use href="#CR" x="500" y="2454"/></g>
<g id="n48-1"><use href="#CL" x="84" y="2506"/></g><g id="n48-2"><use href="#CL" x="136" y="2506"/></g><g id="n48-3"><use href="#CL" x="188" y="2506"/></g><g id="n48-4"><use href="#CL" x="240" y="2506"/></g><g id="n48-5"><use href="#CL" x="292" y="2506"/></g><g id="n48-6"><use href="#CL" x="344" y="2506"/></g><g id="n48-7"><use href="#CL" x="396" y="2506"/></g><g id="n48-8"><use href="#CL" x="448" y="2506"/></g><g id="n48-9"><use href="#CL" x="500" y="2506"/></g>
<g id="n49-1"><use href="#CR" x="84" y="2558"/></g><g id="n49-2"><use href="#GR" x="136" y="2558"/></g><g id="n49-3"><use href="#CR" x="188" y="2558"/></g><g id="n49-4"><use href="#CR" x="240" y="2558"/></g><g id="n49-5"><use href="#CR" x="292" y="2558"/></g><g id="n49-6"><use href="#CR" x="344" y="2558"/></g><g id="n49-7"><use href="#CR" x="396" y="2558"/></g><g id="n49-8"><use href="#CR" x="448" y="2558"/></g><g id="n49-9"><use href="#CR" x="500" y="2558"/></g>
<g id="n50-1"><use href="#CL" x="84" y="2610"/></g><g id="n50-2"><use href="#CL" x="136" y="2610"/></g><g id="n50-3"><use href="#CL" x="188" y="2610"/></g><g id="n50-4"><use href="#CL" x="240" y="2610"/></g><g id="n50-5"><use href="#CL" x="292" y="2610"/></g><g id="n50-6"><use href="#CL" x="344" y="2610"/></g><g id="n50-7"><use href="#CL" x="396" y="2610"/></g><g id="n50-8"><use href="#CL" x="448" y="2610"/></g><g id="n50-9"><use href="#CL" x="500" y="2610"/></g>
</g>
<text class="wm" x="294" y="1341" text-anchor="middle">BRACELETBOOK.COM</text>
</svg>
